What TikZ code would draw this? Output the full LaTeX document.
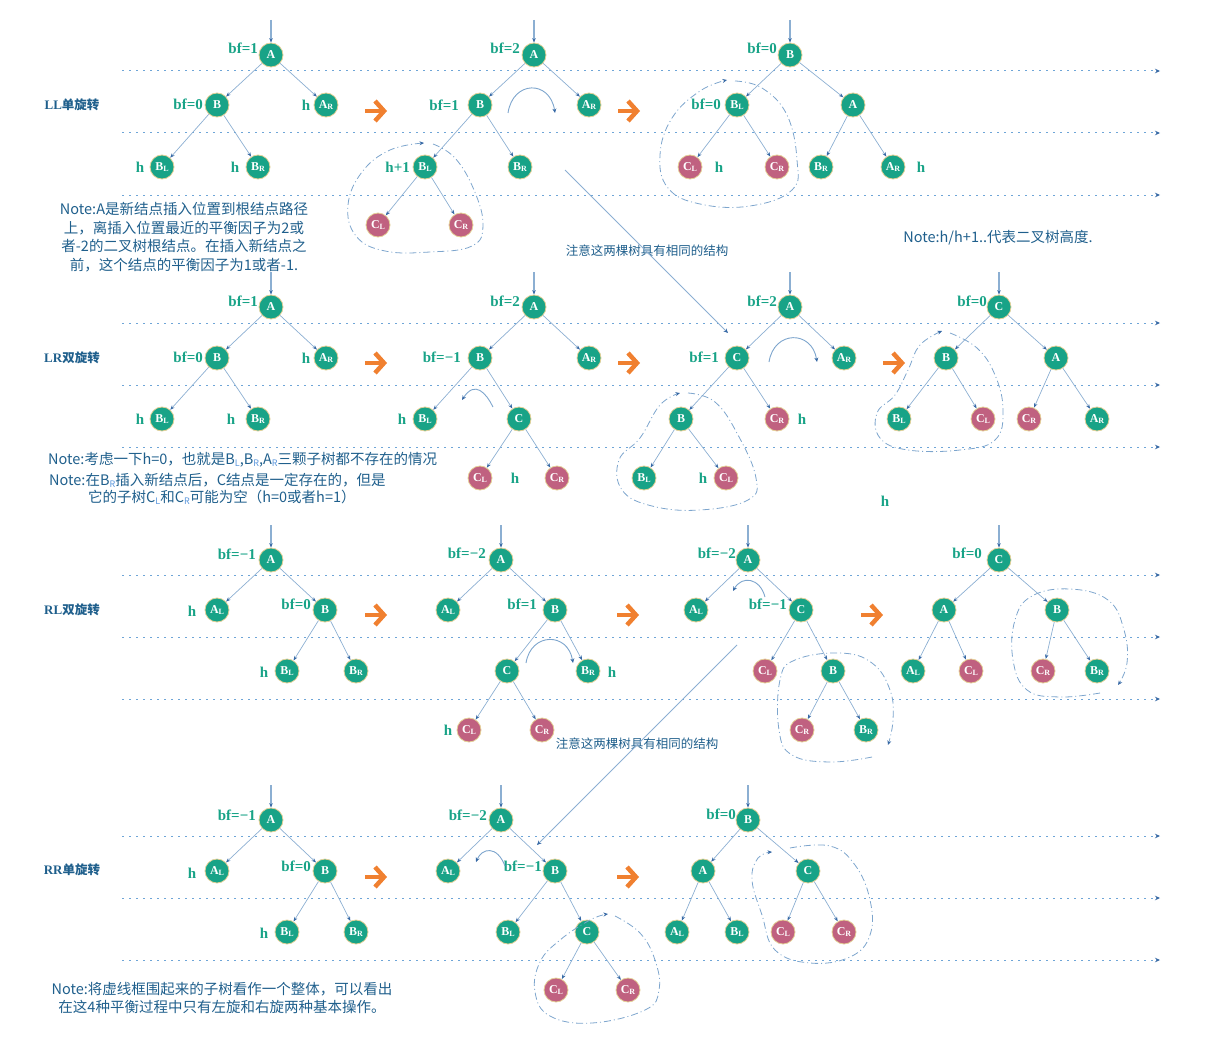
\documentclass[tikz,border=0pt]{standalone}
\usepackage{fontspec}
\usepackage{xcolor}
\usepackage{tikz}
\usetikzlibrary{arrows.meta,positioning}
\setmainfont{Liberation Serif}
\newfontfamily\cjk{Noto Sans CJK SC}
\definecolor{nodeteal}{RGB}{24,163,135}
\definecolor{nodepink}{RGB}{192,97,128}
\definecolor{rimgold}{RGB}{228,208,150}
\definecolor{inkblue}{RGB}{31,95,140}
\definecolor{linkblue}{RGB}{140,175,210}
\definecolor{tipblue}{RGB}{55,105,165}
\definecolor{dotblue}{RGB}{110,165,215}
\definecolor{loopblue}{RGB}{125,165,205}
\definecolor{turnorange}{RGB}{240,128,48}
\definecolor{subblue}{RGB}{90,150,220}
\newcommand{\sbx}[2]{#1\raisebox{-1.5pt}{\fontsize{8}{8}\selectfont#2}}
\newcommand{\nsb}[2]{#1\raisebox{-2pt}{\fontsize{9}{9}\selectfont\color{subblue}#2}}
\newcommand{\turnarrow}[2]{%
  \draw[turn] (#1-11,#2) -- (#1+6,#2);
  \draw[turn,line join=miter] (#1-1,#2-10) -- (#1+8,#2) -- (#1-1,#2+10);}

\begin{document}
\begin{tikzpicture}[x=1pt,y=-1pt,
    tn/.style={circle,fill=nodeteal,draw=rimgold,line width=0.8pt,minimum size=24pt,inner sep=0pt,text=white,font=\fontsize{12}{12}\selectfont\bfseries},
    pn/.style={tn,fill=nodepink},
    bf/.style={anchor=east,inner sep=0pt,text=nodeteal,font=\fontsize{15}{15}\selectfont\bfseries},
    ht/.style={inner sep=0pt,text=nodeteal,font=\fontsize{15}{15}\selectfont\bfseries},
    ttl/.style={inner sep=0pt,text=inkblue,font=\fontsize{13}{13}\selectfont\bfseries},
    note/.style={inner sep=0pt,text=inkblue,font=\cjk\fontsize{14.5}{18.7}\selectfont},
    lnk/.style={-{Stealth[length=4.5pt,width=3.5pt,color=tipblue]},draw=linkblue,line width=0.7pt},
    inarr/.style={lnk,line width=1.2pt},
    lvl/.style={-{Stealth[length=5pt,width=4.5pt,color=tipblue]},draw=dotblue,line width=1pt,dash pattern=on 2pt off 5pt},
    grp/.style={-{Stealth[length=4.5pt,width=4pt,color=tipblue]},draw=loopblue,line width=0.8pt,dash pattern=on 7pt off 3pt on 1pt off 3pt},
    rot/.style={-{Stealth[length=4.5pt,width=4pt,color=tipblue]},draw=loopblue,line width=0.9pt},
    hint/.style={-{Stealth[length=4.5pt,width=4pt,color=tipblue]},draw=linkblue,line width=0.8pt},
    turn/.style={draw=turnorange,line width=4.5pt}]
   \useasboundingbox (0,0) rectangle (1207,1046);
   \foreach \y in {71,133,195,323,385,447,575,637,699,836,898,960}
     \draw[lvl] (122,\y) -- (1160,\y);
   \turnarrow{376}{111} \turnarrow{629}{111}
   \turnarrow{376}{363} \turnarrow{629}{363} \turnarrow{894}{363}
   \turnarrow{376}{615} \turnarrow{628}{615} \turnarrow{872}{615}
   \turnarrow{376}{877} \turnarrow{628}{877}

   \node[ttl] (llt) at (72,105) {LL{\cjk\fontsize{12.5}{13}\selectfont 单旋转}};
   \node[ttl] (lrt) at (72,358) {LR{\cjk\fontsize{12.5}{13}\selectfont 双旋转}};
   \node[ttl] (rlt) at (72,610) {RL{\cjk\fontsize{12.5}{13}\selectfont 双旋转}};
   \node[ttl] (rrt) at (72,870) {RR{\cjk\fontsize{12.5}{13}\selectfont 单旋转}};

   % LL
   \node[tn] (ll1A) at (271,55) {A};
   \node[tn] (ll1B) at (217,105) {B};
   \node[tn] (ll1AR) at (326,105) {\sbx{A}{R}};
   \node[tn] (ll1BL) at (162,167) {\sbx{B}{L}};
   \node[tn] (ll1BR) at (258,167) {\sbx{B}{R}};
   \node[bf] (ll1f1) at (258,48) {bf=1};
   \node[bf] (ll1f2) at (203,104) {bf=0};
   \node[ht] (ll1h1) at (306,105) {h};
   \node[ht] (ll1h2) at (140,167) {h};
   \node[ht] (ll1h3) at (235,167) {h};
   \coordinate (ll1in) at (271,20);
   \draw[inarr] (ll1in) -- (ll1A);
   \draw[lnk] (ll1A) -- (ll1B); \draw[lnk] (ll1A) -- (ll1AR);
   \draw[lnk] (ll1B) -- (ll1BL); \draw[lnk] (ll1B) -- (ll1BR);

   \node[tn] (ll2A) at (534,55) {A};
   \node[tn] (ll2B) at (480,105) {B};
   \node[tn] (ll2AR) at (589,105) {\sbx{A}{R}};
   \node[tn] (ll2BL) at (425,167) {\sbx{B}{L}};
   \node[tn] (ll2BR) at (520,167) {\sbx{B}{R}};
   \node[pn] (ll2CL) at (378,225) {\sbx{C}{L}};
   \node[pn] (ll2CR) at (461,225) {\sbx{C}{R}};
   \node[bf] (ll2f1) at (520,48) {bf=2};
   \node[bf] (ll2f2) at (459,105) {bf=1};
   \node[bf] (ll2h1) at (410,167) {h+1};
   \coordinate (ll2in) at (534,20);
   \draw[inarr] (ll2in) -- (ll2A);
   \draw[lnk] (ll2A) -- (ll2B); \draw[lnk] (ll2A) -- (ll2AR);
   \draw[lnk] (ll2B) -- (ll2BL); \draw[lnk] (ll2B) -- (ll2BR);
   \draw[lnk] (ll2BL) -- (ll2CL); \draw[lnk] (ll2BL) -- (ll2CR);
   \draw[rot] (508,113) .. controls (513,80) and (550,80) .. (555,113);
   \draw[grp] plot[smooth,tension=0.7] coordinates {(433,144) (455,158) (474,190) (483,225) (472,246) (430,252) (385,251) (356,236) (348,205) (362,172) (390,150) (424,143)};

   \node[tn] (ll3B) at (790,55) {B};
   \node[tn] (ll3BL) at (737,105) {\sbx{B}{L}};
   \node[tn] (ll3A) at (853,105) {A};
   \node[pn] (ll3CL) at (690,167) {\sbx{C}{L}};
   \node[pn] (ll3CR) at (777,167) {\sbx{C}{R}};
   \node[tn] (ll3BR) at (821,167) {\sbx{B}{R}};
   \node[tn] (ll3AR) at (893,167) {\sbx{A}{R}};
   \node[bf] (ll3f1) at (777,48) {bf=0};
   \node[bf] (ll3f2) at (721,104) {bf=0};
   \node[ht] (ll3h1) at (719,167) {h};
   \node[ht] (ll3h2) at (921,167) {h};
   \coordinate (ll3in) at (790,20);
   \draw[inarr] (ll3in) -- (ll3B);
   \draw[lnk] (ll3B) -- (ll3BL); \draw[lnk] (ll3B) -- (ll3A);
   \draw[lnk] (ll3BL) -- (ll3CL); \draw[lnk] (ll3BL) -- (ll3CR);
   \draw[lnk] (ll3A) -- (ll3BR); \draw[lnk] (ll3A) -- (ll3AR);
   \draw[grp] plot[smooth,tension=0.7] coordinates {(735,81) (762,88) (787,115) (797,160) (792,190) (750,206) (700,204) (668,188) (660,155) (672,118) (700,91) (727,80)};

   \node[note,align=center] (llnote) at (184,237) {Note:A是新结点插入位置到根结点路径\\上，离插入位置最近的平衡因子为2或\\者-2的二叉树根结点。在插入新结点之\\前，这个结点的平衡因子为1或者-1.};
   \node[note,font=\cjk\fontsize{12.5}{14}\selectfont] (same1) at (647,251) {注意这两棵树具有相同的结构};
   \node[note] (hnote) at (998,238) {Note:h/h+1..代表二叉树高度.};
   \coordinate (same1a) at (565,170);
   \coordinate (same1b) at (728,333);
   \draw[hint] (same1a) -- (same1b);

   % LR
   \node[tn] (lr1A) at (271,307) {A};
   \node[tn] (lr1B) at (217,358) {B};
   \node[tn] (lr1AR) at (326,358) {\sbx{A}{R}};
   \node[tn] (lr1BL) at (162,419) {\sbx{B}{L}};
   \node[tn] (lr1BR) at (258,419) {\sbx{B}{R}};
   \node[bf] (lr1f1) at (258,301) {bf=1};
   \node[bf] (lr1f2) at (203,357) {bf=0};
   \node[ht] (lr1h1) at (306,358) {h};
   \node[ht] (lr1h2) at (140,419) {h};
   \node[ht] (lr1h3) at (231,419) {h};
   \coordinate (lr1in) at (271,272);
   \draw[inarr] (lr1in) -- (lr1A);
   \draw[lnk] (lr1A) -- (lr1B); \draw[lnk] (lr1A) -- (lr1AR);
   \draw[lnk] (lr1B) -- (lr1BL); \draw[lnk] (lr1B) -- (lr1BR);

   \node[tn] (lr2A) at (534,307) {A};
   \node[tn] (lr2B) at (480,358) {B};
   \node[tn] (lr2AR) at (589,358) {\sbx{A}{R}};
   \node[tn] (lr2BL) at (425,419) {\sbx{B}{L}};
   \node[tn] (lr2C) at (519,419) {C};
   \node[pn] (lr2CL) at (480,478) {\sbx{C}{L}};
   \node[pn] (lr2CR) at (557,478) {\sbx{C}{R}};
   \node[bf] (lr2f1) at (520,301) {bf=2};
   \node[bf] (lr2f2) at (461,357) {bf=−1};
   \node[ht] (lr2h1) at (402,419) {h};
   \node[ht] (lr2h2) at (515,478) {h};
   \coordinate (lr2in) at (534,272);
   \draw[inarr] (lr2in) -- (lr2A);
   \draw[lnk] (lr2A) -- (lr2B); \draw[lnk] (lr2A) -- (lr2AR);
   \draw[lnk] (lr2B) -- (lr2BL); \draw[lnk] (lr2B) -- (lr2C);
   \draw[lnk] (lr2C) -- (lr2CL); \draw[lnk] (lr2C) -- (lr2CR);
   \draw[rot] (493,407) .. controls (486,393) and (475,380) .. (462,400);

   \node[tn] (lr3A) at (790,307) {A};
   \node[tn] (lr3C) at (737,358) {C};
   \node[tn] (lr3AR) at (844,358) {\sbx{A}{R}};
   \node[tn] (lr3B) at (681,419) {B};
   \node[pn] (lr3CR) at (777,419) {\sbx{C}{R}};
   \node[tn] (lr3BL) at (644,478) {\sbx{B}{L}};
   \node[pn] (lr3CL) at (726,478) {\sbx{C}{L}};
   \node[bf] (lr3f1) at (777,301) {bf=2};
   \node[bf] (lr3f2) at (719,357) {bf=1};
   \node[ht] (lr3h1) at (802,419) {h};
   \node[ht] (lr3h2) at (703,478) {h};
   \coordinate (lr3in) at (790,272);
   \draw[inarr] (lr3in) -- (lr3A);
   \draw[lnk] (lr3A) -- (lr3C); \draw[lnk] (lr3A) -- (lr3AR);
   \draw[lnk] (lr3C) -- (lr3B); \draw[lnk] (lr3C) -- (lr3CR);
   \draw[lnk] (lr3B) -- (lr3BL); \draw[lnk] (lr3B) -- (lr3CL);
   \draw[rot] (769,362) .. controls (774,330) and (812,330) .. (817,362);
   \draw[grp] plot[smooth,tension=0.7] coordinates {(688,393) (715,402) (738,435) (756,478) (748,500) (700,510) (652,506) (622,490) (619,460) (640,438) (660,405) (680,393)};

   \node[tn] (lr4C) at (999,307) {C};
   \node[tn] (lr4B) at (946,358) {B};
   \node[tn] (lr4A) at (1056,358) {A};
   \node[tn] (lr4BL) at (899,419) {\sbx{B}{L}};
   \node[pn] (lr4CL) at (983,419) {\sbx{C}{L}};
   \node[pn] (lr4CR) at (1029,419) {\sbx{C}{R}};
   \node[tn] (lr4AR) at (1097,419) {\sbx{A}{R}};
   \node[bf] (lr4f1) at (987,301) {bf=0};
   \node[ht] (lr4h1) at (885,501) {h};
   \coordinate (lr4in) at (999,272);
   \draw[inarr] (lr4in) -- (lr4C);
   \draw[lnk] (lr4C) -- (lr4B); \draw[lnk] (lr4C) -- (lr4A);
   \draw[lnk] (lr4B) -- (lr4BL); \draw[lnk] (lr4B) -- (lr4CL);
   \draw[lnk] (lr4A) -- (lr4CR); \draw[lnk] (lr4A) -- (lr4AR);
   \draw[grp] plot[smooth,tension=0.7] coordinates {(950,333) (977,348) (995,375) (1003,410) (995,440) (960,450) (908,450) (880,438) (877,413) (895,395) (908,370) (920,345) (942,331)};

   \node[note,anchor=west] (lrnote1) at (48,460) {Note:考虑一下h=0，也就是\nsb{B}{L},\nsb{B}{R},\nsb{A}{R}三颗子树都不存在的情况};
   \node[note,anchor=west] (lrnote2) at (49,480) {Note:在\nsb{B}{R}插入新结点后，C结点是一定存在的，但是};
   \node[note,anchor=west] (lrnote3) at (88,497) {它的子树\nsb{C}{L}和\nsb{C}{R}可能为空（h=0或者h=1）};

   % RL
   \node[tn] (rl1A) at (271,560) {A};
   \node[tn] (rl1AL) at (217,610) {\sbx{A}{L}};
   \node[tn] (rl1B) at (325,610) {B};
   \node[tn] (rl1BL) at (287,671) {\sbx{B}{L}};
   \node[tn] (rl1BR) at (356,671) {\sbx{B}{R}};
   \node[bf] (rl1f1) at (256,554) {bf=−1};
   \node[bf] (rl1f2) at (311,604) {bf=0};
   \node[ht] (rl1h1) at (192,611) {h};
   \node[ht] (rl1h2) at (264,672) {h};
   \coordinate (rl1in) at (271,525);
   \draw[inarr] (rl1in) -- (rl1A);
   \draw[lnk] (rl1A) -- (rl1AL); \draw[lnk] (rl1A) -- (rl1B);
   \draw[lnk] (rl1B) -- (rl1BL); \draw[lnk] (rl1B) -- (rl1BR);

   \node[tn] (rl2A) at (501,560) {A};
   \node[tn] (rl2AL) at (448,610) {\sbx{A}{L}};
   \node[tn] (rl2B) at (555,610) {B};
   \node[tn] (rl2C) at (507,671) {C};
   \node[tn] (rl2BR) at (588,671) {\sbx{B}{R}};
   \node[pn] (rl2CL) at (469,730) {\sbx{C}{L}};
   \node[pn] (rl2CR) at (542,730) {\sbx{C}{R}};
   \node[bf] (rl2f1) at (486,553) {bf=−2};
   \node[bf] (rl2f2) at (537,604) {bf=1};
   \node[ht] (rl2h1) at (612,672) {h};
   \node[ht] (rl2h2) at (448,730) {h};
   \coordinate (rl2in) at (501,525);
   \draw[inarr] (rl2in) -- (rl2A);
   \draw[lnk] (rl2A) -- (rl2AL); \draw[lnk] (rl2A) -- (rl2B);
   \draw[lnk] (rl2B) -- (rl2C); \draw[lnk] (rl2B) -- (rl2BR);
   \draw[lnk] (rl2C) -- (rl2CL); \draw[lnk] (rl2C) -- (rl2CR);
   \draw[rot] (526,663) .. controls (531,632) and (568,632) .. (573,663);

   \node[tn] (rl3A) at (748,560) {A};
   \node[tn] (rl3AL) at (696,610) {\sbx{A}{L}};
   \node[tn] (rl3C) at (801,610) {C};
   \node[pn] (rl3CL) at (765,671) {\sbx{C}{L}};
   \node[tn] (rl3B) at (833,671) {B};
   \node[pn] (rl3CR) at (802,730) {\sbx{C}{R}};
   \node[tn] (rl3BR) at (866,730) {\sbx{B}{R}};
   \node[bf] (rl3f1) at (736,553) {bf=−2};
   \node[bf] (rl3f2) at (787,604) {bf=−1};
   \coordinate (rl3in) at (748,525);
   \draw[inarr] (rl3in) -- (rl3A);
   \draw[lnk] (rl3A) -- (rl3AL); \draw[lnk] (rl3A) -- (rl3C);
   \draw[lnk] (rl3C) -- (rl3CL); \draw[lnk] (rl3C) -- (rl3B);
   \draw[lnk] (rl3B) -- (rl3CR); \draw[lnk] (rl3B) -- (rl3BR);
   \draw[rot] (765,597) .. controls (760,578) and (742,575) .. (733,591);
   \draw[grp] plot[smooth,tension=0.7] coordinates {(872,757) (830,762) (792,755) (779,730) (780,680) (795,660) (840,653) (872,663) (890,690) (893,720) (888,745)};

   \node[tn] (rl4C) at (999,560) {C};
   \node[tn] (rl4A) at (944,610) {A};
   \node[tn] (rl4B) at (1057,610) {B};
   \node[tn] (rl4AL) at (913,671) {\sbx{A}{L}};
   \node[pn] (rl4CL) at (971,671) {\sbx{C}{L}};
   \node[pn] (rl4CR) at (1043,671) {\sbx{C}{R}};
   \node[tn] (rl4BR) at (1097,671) {\sbx{B}{R}};
   \node[bf] (rl4f1) at (982,553) {bf=0};
   \coordinate (rl4in) at (999,525);
   \draw[inarr] (rl4in) -- (rl4C);
   \draw[lnk] (rl4C) -- (rl4A); \draw[lnk] (rl4C) -- (rl4B);
   \draw[lnk] (rl4A) -- (rl4AL); \draw[lnk] (rl4A) -- (rl4CL);
   \draw[lnk] (rl4B) -- (rl4CR); \draw[lnk] (rl4B) -- (rl4BR);
   \draw[grp] plot[smooth,tension=0.7] coordinates {(1100,693) (1060,697) (1027,690) (1013,660) (1015,620) (1032,596) (1070,589) (1108,600) (1124,630) (1127,663) (1118,685)};

   \node[note,font=\cjk\fontsize{12.5}{14}\selectfont] (same2) at (637,744) {注意这两棵树具有相同的结构};
   \coordinate (same2a) at (737,645);
   \coordinate (same2b) at (537,845);
   \draw[hint] (same2a) -- (same2b);

   % RR
   \node[tn] (rr1A) at (271,820) {A};
   \node[tn] (rr1AL) at (217,871) {\sbx{A}{L}};
   \node[tn] (rr1B) at (325,871) {B};
   \node[tn] (rr1BL) at (287,932) {\sbx{B}{L}};
   \node[tn] (rr1BR) at (356,932) {\sbx{B}{R}};
   \node[bf] (rr1f1) at (256,815) {bf=−1};
   \node[bf] (rr1f2) at (311,866) {bf=0};
   \node[ht] (rr1h1) at (192,873) {h};
   \node[ht] (rr1h2) at (264,933) {h};
   \coordinate (rr1in) at (271,785);
   \draw[inarr] (rr1in) -- (rr1A);
   \draw[lnk] (rr1A) -- (rr1AL); \draw[lnk] (rr1A) -- (rr1B);
   \draw[lnk] (rr1B) -- (rr1BL); \draw[lnk] (rr1B) -- (rr1BR);

   \node[tn] (rr2A) at (501,820) {A};
   \node[tn] (rr2AL) at (448,871) {\sbx{A}{L}};
   \node[tn] (rr2B) at (555,871) {B};
   \node[tn] (rr2BL) at (508,932) {\sbx{B}{L}};
   \node[tn] (rr2C) at (587,932) {C};
   \node[pn] (rr2CL) at (556,990) {\sbx{C}{L}};
   \node[pn] (rr2CR) at (628,990) {\sbx{C}{R}};
   \node[bf] (rr2f1) at (487,815) {bf=−2};
   \node[bf] (rr2f2) at (542,866) {bf=−1};
   \coordinate (rr2in) at (501,785);
   \draw[inarr] (rr2in) -- (rr2A);
   \draw[lnk] (rr2A) -- (rr2AL); \draw[lnk] (rr2A) -- (rr2B);
   \draw[lnk] (rr2B) -- (rr2BL); \draw[lnk] (rr2B) -- (rr2C);
   \draw[lnk] (rr2C) -- (rr2CL); \draw[lnk] (rr2C) -- (rr2CR);
   \draw[rot] (505,866) .. controls (497,845) and (482,848) .. (476,862);
   \draw[grp] plot[smooth,tension=0.7] coordinates {(615,916) (640,933) (655,960) (659,990) (645,1010) (592,1023) (550,1016) (535,992) (540,962) (560,940) (590,920) (608,914)};

   \node[tn] (rr3B) at (748,820) {B};
   \node[tn] (rr3A) at (703,871) {A};
   \node[tn] (rr3C) at (808,871) {C};
   \node[tn] (rr3AL) at (677,932) {\sbx{A}{L}};
   \node[tn] (rr3BL) at (737,932) {\sbx{B}{L}};
   \node[pn] (rr3CL) at (783,932) {\sbx{C}{L}};
   \node[pn] (rr3CR) at (844,932) {\sbx{C}{R}};
   \node[bf] (rr3f1) at (736,814) {bf=0};
   \coordinate (rr3in) at (748,785);
   \draw[inarr] (rr3in) -- (rr3B);
   \draw[lnk] (rr3B) -- (rr3A); \draw[lnk] (rr3B) -- (rr3C);
   \draw[lnk] (rr3A) -- (rr3AL); \draw[lnk] (rr3A) -- (rr3BL);
   \draw[lnk] (rr3C) -- (rr3CL); \draw[lnk] (rr3C) -- (rr3CR);
   \draw[grp] plot[smooth,tension=0.7] coordinates {(790,848) (830,846) (855,865) (870,900) (870,935) (850,957) (810,963) (775,950) (762,915) (752,880) (758,858) (772,852)};

   \node[note,align=center] (rrnote) at (222,998) {Note:将虚线框围起来的子树看作一个整体，可以看出\\在这4种平衡过程中只有左旋和右旋两种基本操作。};
  \end{tikzpicture}
\end{document}
